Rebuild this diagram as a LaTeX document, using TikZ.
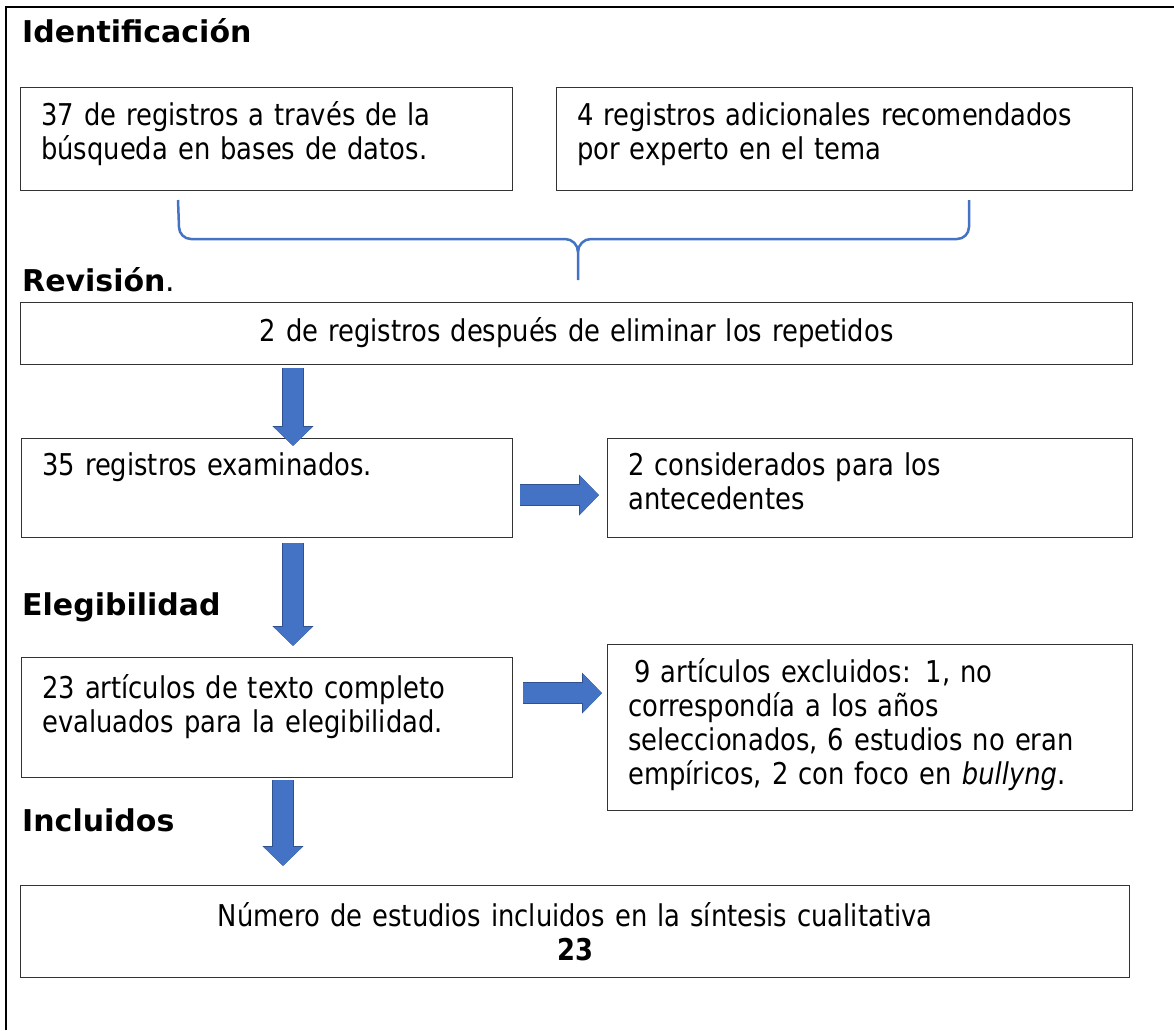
\documentclass[tikz,border=0pt]{standalone}
\usepackage{fontspec}
\setmainfont{DejaVu Sans}[FakeStretch=0.86]
\newfontfamily\fuentetitulo{DejaVu Sans}
\usetikzlibrary{arrows.meta,calc}
\definecolor{azul}{HTML}{4472C4}
\definecolor{azuloscuro}{HTML}{2F528F}
\tikzset{
  caja/.style = {draw=black!80, line width=1.2pt, anchor=north west, inner sep=0pt},
  texto/.style = {anchor=base west, inner sep=0pt, align=left},
  centrado/.style = {anchor=base, inner sep=0pt, align=center},
  titulo/.style = {anchor=base west, inner sep=0pt, font=\fuentetitulo\bfseries\fontsize{30}{34}\selectfont},
  flecha/.style = {azul, line width=20pt, -{Triangle[length=19pt, width=37pt]},
    preaction={draw=azuloscuro, line width=22pt, -{Triangle[length=20pt, width=40pt]}}},
  llave/.style = {azul, line width=2.5pt}
}
\begin{document}
\begin{tikzpicture}[x=1pt, y=-1pt, font=\fontsize{30}{34}\selectfont]
  \useasboundingbox (0,0) rectangle (1174,1030);
  % marco
  \draw [line width=2pt] (6,1030) -- (6,7) -- (1174,7);

  % identificacion
  \node [titulo] (tid) at (22,43) {Identificación};
  \node [caja, minimum width=492pt, minimum height=103pt] (b1) at (20,87) {};
  \node [caja, minimum width=576pt, minimum height=103pt] (b2) at (556,87) {};
  \node [texto, text width=460pt] (t1) at ($(b1.north west)+(21,38)$)
    {37 de registros a través de la\\búsqueda en bases de datos.};
  \node [texto, text width=540pt] (t2) at ($(b2.north west)+(21,38)$)
    {4 registros adicionales recomendados\\por experto en el tema};
  \draw [llave] (178,200) -- (179,227) to[out=-90, in=180] (191,239) -- (565,239)
    to[out=0, in=90] (578,252) -- (578,280);
  \draw [llave] (578,252) to[out=90, in=180] (591,239) -- (957,239)
    to[out=0, in=-90] (969,227) -- (969,200);

  % revision
  \node [titulo] (trev) at (22,291) {Revisión{\mdseries .}};
  \node [caja, minimum width=1112pt, minimum height=62pt] (b3) at (20,302) {};
  \node [centrado, text width=1100pt] (t3) at ($(b3.north)+(0,39)$)
    {2 de registros después de eliminar los repetidos};
  \node [caja, minimum width=491pt, minimum height=99pt] (b4) at (21,438) {};
  \node [caja, minimum width=525pt, minimum height=99pt] (b5) at (607,438) {};
  \node [texto, text width=460pt] (t4) at ($(b4.north west)+(21,37)$)
    {35 registros examinados.};
  \node [texto, text width=490pt] (t5) at ($(b5.north west)+(21,37)$)
    {2 considerados para los\\antecedentes};

  % elegibilidad
  \node [titulo] (teleg) at (22,615) {Elegibilidad};
  \node [caja, minimum width=491pt, minimum height=120pt] (b6) at (21,657) {};
  \node [caja, minimum width=525pt, minimum height=166pt] (b7) at (607,644) {};
  \node [texto, text width=460pt] (t6) at ($(b6.north west)+(21,41)$)
    {23 artículos de texto completo\\evaluados para la elegibilidad.};
  \node [texto, text width=500pt] (t7) at ($(b7.north west)+(21,38)$)
    {\hspace*{0.2em}9 artículos excluidos: 1, no\\correspondía a los años\\seleccionados, 6 estudios no eran\\empíricos, 2 con foco en \textit{bullyng}.};

  % incluidos
  \node [titulo] (tinc) at (22,831) {Incluidos};
  \node [caja, minimum width=1109pt, minimum height=92pt] (b8) at (20,885) {};
  \node [centrado, text width=1100pt] (t8) at ($(b8.north)+(0,41)$)
    {Número de estudios incluidos en la síntesis cualitativa\\\textbf{23}};

  % flechas
  \coordinate (ejeA) at (293,0);
  \coordinate (ejeB) at (283,0);
  \draw [flecha] ($(b3.south -| ejeA)+(0,3)$) -- ($(b4.north -| ejeA)+(0,8)$);
  \draw [flecha] ($(b4.south -| ejeA)+(0,5)$) -- ($(b6.north -| ejeA)+(0,-11)$);
  \draw [flecha] ($(b6.south -| ejeB)+(0,2)$) -- ($(b8.north -| ejeB)+(0,-19)$);
  \draw [flecha] ($(b4.east)+(7,7)$) -- ($(b5.west)+(-8,7)$);
  \draw [flecha] ($(b6.east)+(10,-24.5)$) -- ($(b7.west)+(-5,-34.5)$);
\end{tikzpicture}
\end{document}
